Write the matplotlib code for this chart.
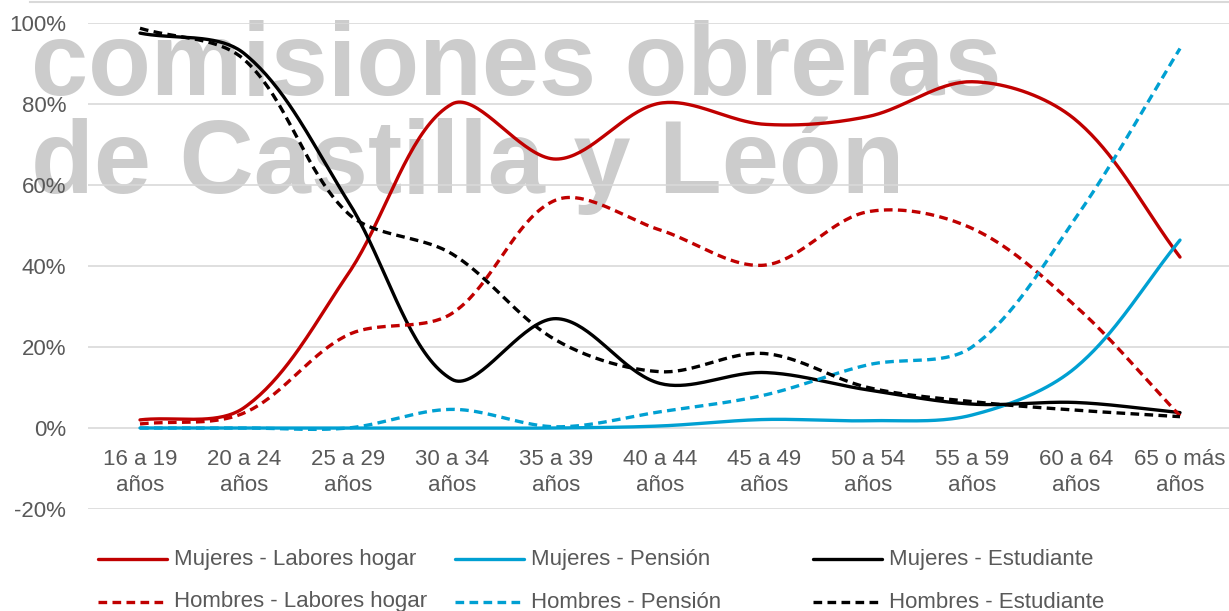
import numpy as np
import matplotlib
matplotlib.use("Agg")
import matplotlib.pyplot as plt
from matplotlib.lines import Line2D
from matplotlib.ticker import FuncFormatter

plt.rcParams['font.family'] = ['Liberation Sans', 'DejaVu Sans']

# datos (% sobre el total de cada grupo de edad)
edades = ['16 a 19\naños', '20 a 24\naños', '25 a 29\naños', '30 a 34\naños',
          '35 a 39\naños', '40 a 44\naños', '45 a 49\naños', '50 a 54\naños',
          '55 a 59\naños', '60 a 64\naños', '65 o más\naños']
muj_hogar = [2, 5, 38, 80, 66.4, 80.2, 75, 76.9, 85.5, 76, 42.2]
hom_hogar = [1, 3.7, 23, 28.3, 56.3, 48.9, 40.2, 53.4, 49.3, 30, 3]
muj_pension = [0, 0, 0, 0, 0, 0.5, 2.1, 1.8, 3.2, 15, 46.4]
hom_pension = [0, 0, 0, 4.6, 0.3, 4, 8.1, 15.6, 20, 52, 93.7]
muj_estud = [97.5, 92.5, 56, 12, 27, 11, 13.7, 9.4, 5.9, 6.3, 3.8]
hom_estud = [98.7, 91, 53, 43, 21.7, 13.9, 18.4, 10, 6.5, 4.4, 2.8]

ROJO = '#C00000'
AZUL = '#00A0D2'
NEGRO = '#000000'
GRIS = '#595959'


def suavizar(xs, ys, sx=104.0, sy=4.05, n=40):
    # linea suavizada estilo Excel: bezier, brazos proporcionales a cada tramo
    P = np.column_stack([np.asarray(xs, float) * sx, np.asarray(ys, float) * sy])
    m = len(P)
    t = np.linspace(0, 1, n)[:, None]
    out = []
    for i in range(m - 1):
        p0 = P[i - 1] if i > 0 else P[i]
        p1, p2 = P[i], P[i + 1]
        p3 = P[i + 2] if i + 2 < m else P[i + 1]
        d01 = np.hypot(*(p1 - p0))
        d12 = np.hypot(*(p2 - p1))
        d23 = np.hypot(*(p3 - p2))
        c1 = p1 + (p2 - p0) / 3 * d12 / (d01 + d12)
        c2 = p2 - (p3 - p1) / 3 * d12 / (d12 + d23)
        seg = (1 - t) ** 3 * p1 + 3 * (1 - t) ** 2 * t * c1 + 3 * (1 - t) * t ** 2 * c2 + t ** 3 * p2
        out.append(seg if i == 0 else seg[1:])
    c = np.vstack(out)
    return c[:, 0] / sx, c[:, 1] / sy


W, H = 1229, 611
fig = plt.figure(figsize=(W / 100, H / 100), dpi=100)
ax = fig.add_axes([88 / W, 1 - 509 / H, (1232 - 88) / W, (509 - 23) / H])
ax.set_facecolor('none')

# marca de agua
for txt, yb in [('comisiones obreras', 95), ('de Castilla y León', 193)]:
    fig.text(31 / W, 1 - yb / H, txt, fontsize=74, fontweight='bold',
             color='#cccccc', va='baseline', ha='left', zorder=-1)

x = np.arange(len(edades))
series = [
    (muj_hogar, ROJO, '-', 'Mujeres - Labores hogar'),
    (muj_pension, AZUL, '-', 'Mujeres - Pensión'),
    (muj_estud, NEGRO, '-', 'Mujeres - Estudiante'),
    (hom_hogar, ROJO, '--', 'Hombres - Labores hogar'),
    (hom_pension, AZUL, '--', 'Hombres - Pensión'),
    (hom_estud, NEGRO, '--', 'Hombres - Estudiante'),
]
for vals, col, ls, lab in series:
    sx, sy = suavizar(x, vals)
    if ls == '-':
        ax.plot(sx, sy, color=col, lw=2.4, solid_capstyle='round', zorder=3)
    else:
        ax.plot(sx, sy, color=col, lw=2.4, dashes=(2.6, 1.6), zorder=3)

ax.set_xlim(-0.5, len(edades) - 0.5)
ax.set_ylim(-20, 100)
ax.set_yticks(range(-20, 101, 20))
ax.yaxis.set_major_formatter(FuncFormatter(lambda v, p: f'{v:.0f}%'))
ax.grid(axis='y', color='#d9d9d9', lw=1.2, zorder=1)
ax.set_axisbelow(True)
for s in ['top', 'right', 'left']:
    ax.spines[s].set_visible(False)
ax.spines['bottom'].set_position(('data', 0))
ax.spines['bottom'].set_visible(False)
ax.set_xticks(x)
ax.set_xticklabels(edades, linespacing=1.3)
ax.tick_params(axis='x', length=0, pad=15, labelsize=16, labelcolor=GRIS)
ax.tick_params(axis='y', length=0, pad=15.8, labelsize=16, labelcolor=GRIS)

# linea gris superior
fig.add_artist(Line2D([30 / W, 1.0], [1 - 1.5 / H, 1 - 1.5 / H],
                      color='#d9d9d9', lw=1.5))

# leyenda
cols_x = [98, 455, 813]
filas_y = [559, 602]
for k, (vals, col, ls, lab) in enumerate(series):
    fila, colm = divmod(k, 3)
    x0 = cols_x[colm]
    yy = 1 - filas_y[fila] / H
    if ls == '-':
        fig.add_artist(Line2D([x0 / W, (x0 + 69) / W], [yy, yy], color=col, lw=2.4,
                              solid_capstyle='round'))
    else:
        fig.add_artist(Line2D([x0 / W, (x0 + 69) / W], [yy, yy], color=col, lw=2.4,
                              dashes=(2.6, 1.6)))
    fig.text((x0 + 76) / W, yy, lab, fontsize=16, color=GRIS, va='center', ha='left')

fig.savefig('out.png', dpi=100)
